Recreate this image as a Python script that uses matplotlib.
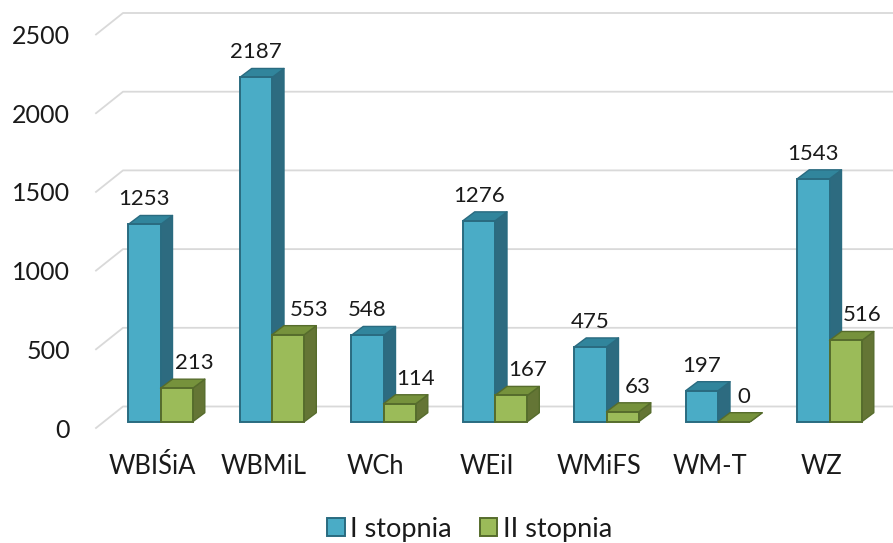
#!/usr/bin/env python3
"""Excel-style pseudo 3D column chart, faces sheared by hand on 2D axes."""

import matplotlib

matplotlib.use("Agg")
import matplotlib.pyplot as plt
from matplotlib.patches import Patch, Polygon

categories = ["WBIŚiA", "WBMiL", "WCh", "WEiI", "WMiFS", "WM-T", "WZ"]
stopnia_1 = [1253, 2187, 548, 1276, 475, 197, 1543]
stopnia_2 = [213, 553, 114, 167, 63, 0, 516]
y_ticks = [0, 500, 1000, 1500, 2000, 2500]
series_names = ["I stopnia", "II stopnia"]

W, H = 893, 543
PX_X = 111.5   # px per category
PX_Y = 393.5 / 2500   # px per unit
BAR_W = 32.3 / PX_X
# bars stand this far behind the axis plane, faces recede by DEPTH
PLANE_X, PLANE_Y = 8 / PX_X, 6.3 / PX_Y
DEPTH_X, DEPTH_Y = 12 / PX_X, 9 / PX_Y
WALL_X, WALL_Y = 27 / PX_X, 21.5 / PX_Y

# the second series' labels sit beside the bar, not all by the same amount
GREEN_LABEL_DX = [18, 21, 16, 16, 15, 10, 17]

BLUE = dict(front="#4aacc6", side="#2d6b80", top="#31859c", edge="#2a6b80")
GREEN = dict(front="#9bbb59", side="#647535", top="#76923c", edge="#566c2c")

plt.rcParams["font.family"] = ["Lato", "DejaVu Sans"]
TEXT = "#1a1a1a"


def draw_column(ax, left, value, colors):
    """One column: side and top faces as polygons, front face as a bar."""
    right = left + BAR_W
    y0 = PLANE_Y
    y1 = PLANE_Y + value
    side = [(right, y0), (right + DEPTH_X, y0 + DEPTH_Y),
            (right + DEPTH_X, y1 + DEPTH_Y), (right, y1)]
    top = [(left, y1), (left + DEPTH_X, y1 + DEPTH_Y),
           (right + DEPTH_X, y1 + DEPTH_Y), (right, y1)]
    kw = dict(edgecolor=colors["edge"], linewidth=1.0, clip_on=False, joinstyle="round")
    ax.add_patch(Polygon(side, closed=True, facecolor=colors["side"], zorder=3, **kw))
    ax.add_patch(Polygon(top, closed=True, facecolor=colors["top"], zorder=3, **kw))
    ax.bar(left, value, width=BAR_W, bottom=y0, align="edge", color=colors["front"],
           edgecolor=colors["edge"], linewidth=1.4, zorder=3, clip_on=False)


def main():
    fig = plt.figure(figsize=(W / 100, H / 100), dpi=100)
    fig.patch.set_facecolor("white")
    ax = fig.add_axes([96 / W, 1 - 428 / H, (W - 96) / W, 393.5 / H])
    ax.set_xlim((96 - 152.5) / PX_X, (W - 152.5) / PX_X)
    ax.set_ylim(0, 2500)
    for spine in ax.spines.values():
        spine.set_visible(False)

    x_end = ax.get_xlim()[1]
    x_start = ax.get_xlim()[0]
    for t in y_ticks:
        ax.plot([x_start, x_start + WALL_X, x_end], [t, t + WALL_Y, t + WALL_Y],
                color="#d9d9d9", linewidth=1.3, clip_on=False, zorder=1)

    for i, (a, b) in enumerate(zip(stopnia_1, stopnia_2)):
        mid = i + PLANE_X
        draw_column(ax, mid - BAR_W, a, BLUE)
        draw_column(ax, mid, b, GREEN)
        ax.annotate(str(a), (mid - BAR_W / 2, a + PLANE_Y), xytext=(0, 25 * 0.72),
                    textcoords="offset points", ha="center", va="center",
                    fontsize=16, color=TEXT, zorder=5, annotation_clip=False)
        ax.annotate(str(b), (mid + BAR_W / 2, b + PLANE_Y),
                    xytext=(GREEN_LABEL_DX[i] * 0.72, 25 * 0.72),
                    textcoords="offset points", ha="center", va="center",
                    fontsize=16, color=TEXT, zorder=5, annotation_clip=False)

    ax.set_yticks(y_ticks)
    ax.set_xticks(range(len(categories)), categories)
    ax.tick_params(axis="y", length=0, pad=26 * 0.72, labelsize=18, labelcolor=TEXT)
    ax.tick_params(axis="x", length=0, pad=26 * 0.72, labelsize=18.4, labelcolor=TEXT)
    ax.patch.set_alpha(0)

    handles = [Patch(facecolor=BLUE["front"], edgecolor=BLUE["edge"], linewidth=1.4),
               Patch(facecolor=GREEN["front"], edgecolor=GREEN["edge"], linewidth=1.4)]
    fig.legend(handles, series_names, loc="center", bbox_to_anchor=(470 / W, 1 - 529 / H),
               ncol=2, frameon=False, fontsize=19.5, labelcolor=TEXT, handlelength=0.63,
               handleheight=0.63, handletextpad=0.22, columnspacing=1.04, borderpad=0)

    fig.savefig("out.png", dpi=100)
    plt.close(fig)


if __name__ == "__main__":
    main()
